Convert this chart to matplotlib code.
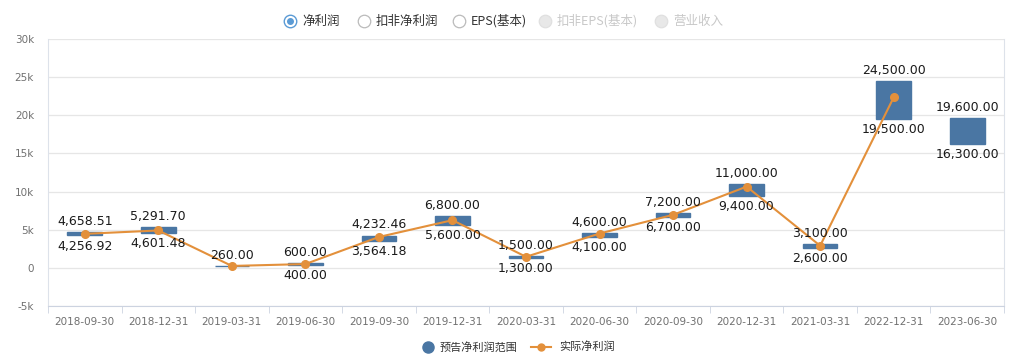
import numpy as np
import matplotlib
matplotlib.use("Agg")
import matplotlib.pyplot as plt
from matplotlib.lines import Line2D

plt.rcParams['font.family'] = ['DejaVu Sans', 'Noto Sans CJK SC']
CJK = ['Noto Sans CJK SC', 'DejaVu Sans']

categories = ['2018-09-30', '2018-12-31', '2019-03-31', '2019-06-30', '2019-09-30',
              '2019-12-31', '2020-03-31', '2020-06-30', '2020-09-30', '2020-12-31',
              '2021-03-31', '2022-12-31', '2023-06-30']
forecast_high = [4658.51, 5291.70, 260.00, 600.00, 4232.46, 6800.00, 1500.00, 4600.00,
                 7200.00, 11000.00, 3100.00, 24500.00, 19600.00]
forecast_low = [4256.92, 4601.48, 260.00, 400.00, 3564.18, 5600.00, 1300.00, 4100.00,
                6700.00, 9400.00, 2600.00, 19500.00, 16300.00]
actual = [4460, 4900, 250, 500, 4050, 6250, 1450, 4500, 6950, 10650, 2900, 22350, np.nan]
yticks = [-5000, 0, 5000, 10000, 15000, 20000, 25000, 30000]
ytick_labels = ['-5k', '0', '5k', '10k', '15k', '20k', '25k', '30k']

BAR = '#4a76a3'
LINE = '#e3903b'

fig = plt.figure(figsize=(10.24, 3.61), dpi=100)
ax = fig.add_axes([48 / 1024, 1 - 306 / 361, (1004 - 48) / 1024, (306 - 39) / 361])

x = np.arange(len(categories))
lo = np.array(forecast_low)
hi = np.array(forecast_high)
ax.bar(x, hi - lo, bottom=lo, width=0.47, color=BAR, edgecolor=BAR, linewidth=1.0, zorder=2)
ax.plot(x, actual, color=LINE, linewidth=1.5, marker='o', markersize=5.5, zorder=3)

for i in range(len(x)):
    ax.annotate(f'{hi[i]:,.2f}', (x[i], hi[i]), xytext=(0, 3), textcoords='offset points',
                ha='center', va='bottom', fontsize=9, color='#1a1a1a', zorder=4)
    if lo[i] != hi[i]:
        ax.annotate(f'{lo[i]:,.2f}', (x[i], lo[i]), xytext=(0, -3), textcoords='offset points',
                    ha='center', va='top', fontsize=9, color='#1a1a1a', zorder=4)

ax.set_xlim(-0.5, len(categories) - 0.5)
ax.set_ylim(-5000, 30000)
ax.set_yticks(yticks)
ax.set_yticklabels(ytick_labels)
ax.set_xticks(x)
ax.set_xticklabels(categories)
ax.set_xticks(np.arange(len(categories) + 1) - 0.5, minor=True)
ax.tick_params(axis='x', which='major', length=0, labelsize=7.5, colors='#707070', pad=8)
ax.tick_params(axis='x', which='minor', length=5, color='#ccd3e0', direction='out')
ax.tick_params(axis='y', length=0, labelsize=7.5, colors='#707070', pad=10)
ax.grid(axis='y', color='#e6e6e6', linewidth=0.9, zorder=0)
ax.set_axisbelow(True)
ax.spines['top'].set_visible(False)
ax.spines['left'].set_color('#dde2ea')
ax.spines['right'].set_color('#dde2ea')
ax.spines['bottom'].set_color('#ccd3e0')

# top radio legend
def radio(px, label, state):
    yf = 1 - 21 / 361
    if state == 'on':
        fig.add_artist(Line2D([px / 1024], [yf], marker='o', markersize=9, markerfacecolor='white',
                              markeredgecolor='#5b9bd5', markeredgewidth=1.0, transform=fig.transFigure))
        fig.add_artist(Line2D([px / 1024], [yf], marker='o', markersize=4, markerfacecolor='#5b9bd5',
                              markeredgecolor='#5b9bd5', transform=fig.transFigure))
        col = '#333333'
    elif state == 'off':
        fig.add_artist(Line2D([px / 1024], [yf], marker='o', markersize=9, markerfacecolor='white',
                              markeredgecolor='#bbbbbb', markeredgewidth=0.9, transform=fig.transFigure))
        col = '#333333'
    else:
        fig.add_artist(Line2D([px / 1024], [yf], marker='o', markersize=9, markerfacecolor='#e8e8e8',
                              markeredgecolor='#e0e0e0', markeredgewidth=0.9, transform=fig.transFigure))
        col = '#c8c8c8'
    fig.text((px + 12) / 1024, yf, label, ha='left', va='center', fontsize=9, color=col, family=CJK)

radio(290, '净利润', 'on')
radio(364, '扣非净利润', 'off')
radio(459, 'EPS(基本)', 'off')
radio(545, '扣非EPS(基本)', 'dis')
radio(661, '营业收入', 'dis')

# bottom legend
yb = 1 - 347 / 361
fig.add_artist(Line2D([428 / 1024], [yb], marker='o', markersize=8, color=BAR, transform=fig.transFigure))
fig.text(440 / 1024, yb, '预告净利润范围', ha='left', va='center', fontsize=8, color='#333333', family=CJK)
fig.add_artist(Line2D([531 / 1024, 551 / 1024], [yb, yb], color=LINE, linewidth=1.5, transform=fig.transFigure))
fig.add_artist(Line2D([541 / 1024], [yb], marker='o', markersize=5, color=LINE, transform=fig.transFigure))
fig.text(559 / 1024, yb, '实际净利润', ha='left', va='center', fontsize=8, color='#333333', family=CJK)

fig.savefig('out.png', dpi=100)
